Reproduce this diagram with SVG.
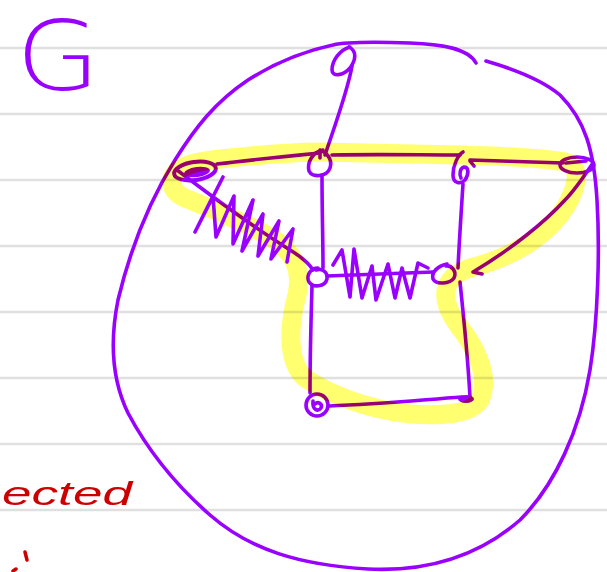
<svg xmlns="http://www.w3.org/2000/svg" width="607" height="572" viewBox="0 0 607 572">
<style>
.rule{stroke:#e0e0e0;stroke-width:2.5}
.ink{fill:none;stroke:#9900ff;stroke-width:3.6;stroke-linecap:round;stroke-linejoin:round}
.thick{stroke-width:4}
.hl{fill:none;stroke:#ffff70;stroke-width:19;stroke-linejoin:round;stroke-linecap:round;mix-blend-mode:multiply}
.dot{fill:#9900ff}
.red{fill:none;stroke:#cc0000;stroke-width:3.5;stroke-linecap:round}
</style>
<rect width="607" height="572" fill="#ffffff"/>
<g id="rules">
<line class="rule" x1="0" y1="48" x2="607" y2="48"/>
<line class="rule" x1="0" y1="114" x2="607" y2="114"/>
<line class="rule" x1="0" y1="180" x2="607" y2="180"/>
<line class="rule" x1="0" y1="246" x2="607" y2="246"/>
<line class="rule" x1="0" y1="312" x2="607" y2="312"/>
<line class="rule" x1="0" y1="378" x2="607" y2="378"/>
<line class="rule" x1="0" y1="444" x2="607" y2="444"/>
<line class="rule" x1="0" y1="510" x2="607" y2="510"/>
</g>
<text x="16" y="90" font-family="DejaVu Sans, sans-serif" font-size="96" fill="#9900ff" font-weight="200" textLength="84" lengthAdjust="spacingAndGlyphs">G</text>
<g id="outer">
<path class="ink" d="M 476 63 C 468 48, 440 44, 410 43 C 380 42, 345 42, 333 45 C 300 52, 270 66, 248 80 C 215 102, 195 128, 175 160 C 150 200, 130 250, 118 300 C 110 340, 112 380, 128 413 C 145 445, 170 480, 210 515 C 250 550, 300 565, 368 569 C 430 572, 480 555, 520 520 C 555 485, 580 430, 590 370 C 598 320, 600 250, 597 200 C 594 150, 585 120, 560 95 C 540 78, 510 68, 486 61"/>
</g>
<g id="connectors">
<path class="ink" d="M 352 66 C 348 90, 335 125, 325 155"/>
<path class="ink" d="M 217 164 C 250 160, 290 156, 320 153"/>
<path class="ink" d="M 332 155 C 380 154, 420 155, 460 155"/>
<path class="ink" d="M 470 161 L 474 166 M 470 160 C 500 161, 535 162, 563 163"/>
<path class="ink" d="M 593 163 C 585 175, 575 190, 565 200 C 545 222, 510 250, 473 272 L 482 274"/>
<path class="ink" d="M 177 170 C 210 195, 250 225, 290 250 C 300 256, 308 262, 313 270"/>
<path class="ink" d="M 322 175 C 322 210, 323 240, 323 268"/>
<path class="ink" d="M 463 184 C 461 215, 459 245, 458 268"/>
<path class="ink" d="M 327 276 C 360 275, 400 273, 433 272"/>
<path class="ink" d="M 312 286 C 311 320, 310 360, 310 393"/>
<path class="ink" d="M 460 282 C 464 320, 468 360, 470 397"/>
<path class="ink" d="M 329 406 C 380 404, 420 400, 462 397"/>
</g>
<g id="nodes">
<g id="node-A"><path class="ink" d="M 350 47 C 340 50, 332 60, 332 70 C 332 77, 343 76, 350 68 C 356 60, 357 51, 349 47"/></g>
<g id="node-B"><path class="ink" d="M 323 150 C 312 152, 307 163, 309 171 C 312 178, 327 177, 330 168 C 333 159, 326 152, 320 150 L 320 158"/></g>
<g id="node-C"><ellipse class="ink thick" cx="195" cy="171" rx="21" ry="9" transform="rotate(-8 195 171)"/><ellipse class="dot" cx="197" cy="172" rx="13" ry="5" transform="rotate(-8 197 172)"/></g>
<g id="node-D"><path class="ink" d="M 463 152 C 458 155, 453 165, 453 175 C 453 183, 460 185, 465 180 C 469 174, 469 167, 464 167 C 460 168, 459 174, 461 178"/></g>
<g id="node-E"><ellipse class="ink" cx="577" cy="165" rx="17" ry="8"/><path class="ink" d="M 566 163 L 586 161"/></g>
<g id="node-F"><path class="ink" d="M 318 268 C 310 268, 306 276, 309 282 C 313 288, 325 287, 327 279 C 328 272, 322 268, 316 270"/></g>
<g id="node-H"><path class="ink" d="M 447 264 C 438 266, 431 272, 433 279 C 436 285, 450 284, 454 278 C 457 272, 452 265, 446 266"/></g>
<g id="node-I"><circle class="ink" cx="317" cy="405" r="11"/><path class="ink" d="M 313 401 C 312 410, 318 412, 321 408 C 323 404, 318 401, 315 404"/></g>
<g id="node-J"><ellipse class="dot" cx="466" cy="399" rx="8" ry="4"/></g>
</g>
<path id="highlight" class="hl" d="M 172 182 C 172 166, 195 161, 230 158 C 260 155, 290 152, 320 152 L 460 155 C 500 156, 540 158, 565 162 C 585 166, 575 195, 560 215 C 540 240, 510 258, 470 268 C 440 278, 440 300, 458 325 C 478 350, 490 378, 480 400 C 470 415, 440 416, 410 414 C 370 410, 330 395, 305 378 C 285 360, 290 320, 297 295 C 302 270, 295 255, 275 240 C 245 222, 210 208, 185 198 C 176 194, 172 188, 172 182 Z"/>
<g id="scribbles">
<path class="ink" d="M 223 177 L 195 232 L 213 196 L 216 237 L 234 196 L 233 244 L 253 200 L 242 251 L 263 214 L 258 256 L 279 221 L 271 259 L 293 229 L 287 262"/>
<path class="ink" d="M 333 265 L 342 250 L 350 297 L 354 249 L 362 298 L 372 266 L 376 300 L 388 264 L 395 298 L 402 268 L 410 298 L 418 263 L 428 268"/>
</g>
<text x="2" y="505" font-family="Liberation Sans, sans-serif" font-style="italic" font-size="34" fill="#cc0000" textLength="130" lengthAdjust="spacingAndGlyphs">ected</text>
<path class="red" d="M 25 552 L 27 560 M 13 571 L 16 569"/>
</svg>
